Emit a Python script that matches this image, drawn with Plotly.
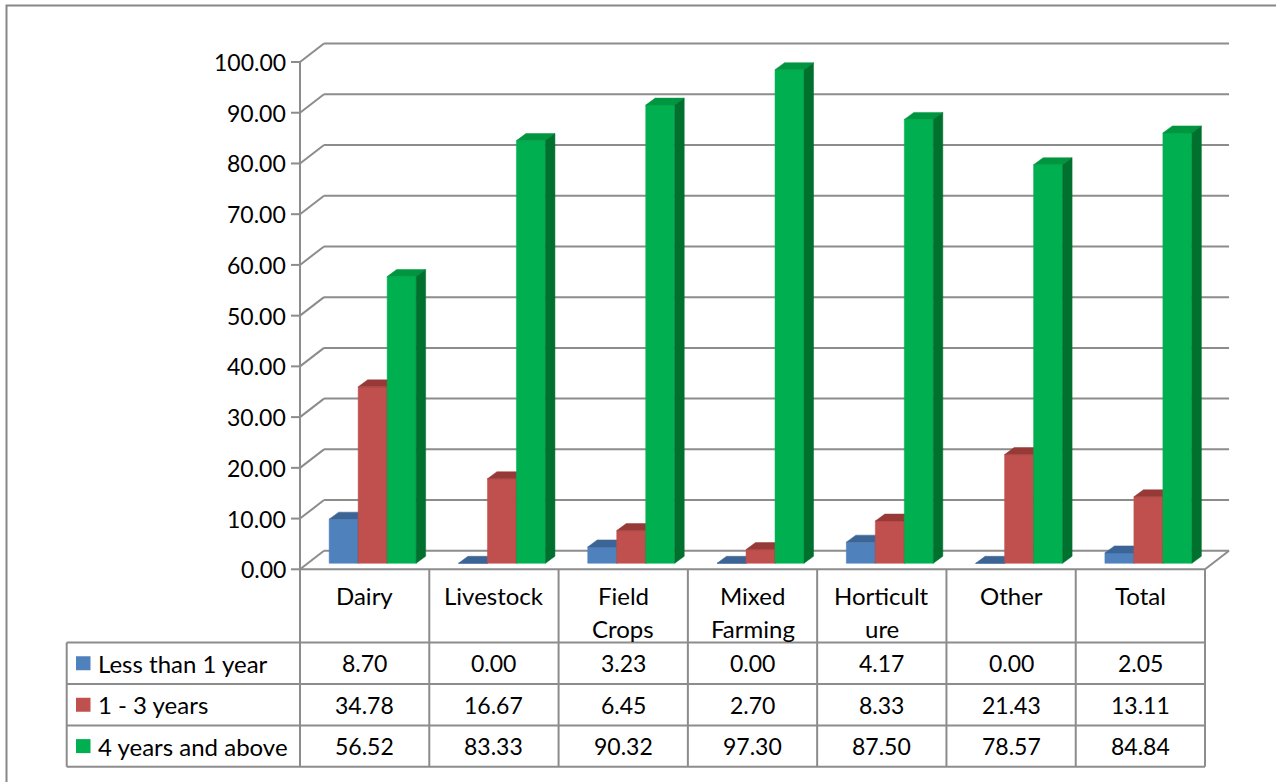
import plotly.graph_objects as go

# ---- data -------------------------------------------------------------
categories = [["Dairy"], ["Livestock"], ["Field", "Crops"], ["Mixed", "Farming"],
              ["Horticult", "ure"], ["Other"], ["Total"]]
series_names = ["Less than 1 year", "1 - 3 years", "4 years and above"]
less_than_1 = [8.70, 0.00, 3.23, 0.00, 4.17, 0.00, 2.05]
one_to_three = [34.78, 16.67, 6.45, 2.70, 8.33, 21.43, 13.11]
four_plus = [56.52, 83.33, 90.32, 97.30, 87.50, 78.57, 84.84]
y_ticks = [0, 10, 20, 30, 40, 50, 60, 70, 80, 90, 100]

series_values = [less_than_1, one_to_three, four_plus]

# ---- styling ----------------------------------------------------------
front_cols = ["#4F81BD", "#C0504D", "#00B050"]
top_cols = ["#3C6595", "#973A37", "#00963F"]
side_cols = ["#365B87", "#8C3330", "#00702E"]
GRID = "#8C8C8C"
FONT = "Lato, 'Liberation Sans', sans-serif"
FS_TEXT = 24
FS_NUM = 23

W, H = 1276, 782
PX_CAT = 129.29      # pixels per category column
X0_PX = 300.0        # left edge of first column (front plane)
PX_UNIT = 5.073      # pixels per value unit
Y0_PX = 569.3        # value 0 on the front plane

def xd(px):
    return -0.5 + (px - X0_PX) / PX_CAT

def yd(py):
    return (Y0_PX - py) / PX_UNIT

# 3-D depth of the floor / walls
DX = 24.0 / PX_CAT
DY = 18.5 / PX_UNIT
# bars sit part-way into the depth
BX = 8.0 / PX_CAT
BY = 6.0 / PX_UNIT
BDX = 9.5 / PX_CAT
BDY = 7.0 / PX_UNIT
BW = 29.0 / PX_CAT

n = len(categories)
fig = go.Figure()

# ---- bars: front, top and side faces ---------------------------------
for s, vals in enumerate(series_values):
    fx, fy, tx, ty, sx, sy = [], [], [], [], [], []
    for i, v in enumerate(vals):
        xl = i + BX + (s - 1.5) * BW
        xr = xl + BW
        b = BY
        t = BY + v
        fx += [xl, xr, xr, xl, xl, None]
        fy += [b, b, t, t, b, None]
        tx += [xl, xr, xr + BDX, xl + BDX, xl, None]
        ty += [t, t, t + BDY, t + BDY, t, None]
        sx += [xr, xr + BDX, xr + BDX, xr, xr, None]
        sy += [b, b + BDY, t + BDY, t, b, None]
    for px_, py_, col in ((fx, fy, front_cols[s]), (tx, ty, top_cols[s]), (sx, sy, side_cols[s])):
        fig.add_trace(go.Scatter(x=px_, y=py_, mode="lines", fill="toself",
                                 fillcolor=col, line=dict(width=0.5, color=col),
                                 name=series_names[s], showlegend=False,
                                 hoverinfo="skip"))

shapes = []
annotations = []

def line(x0, y0, x1, y1, layer="below", width=2, color=GRID):
    shapes.append(dict(type="line", xref="x", yref="y", x0=x0, y0=y0, x1=x1, y1=y1,
                       line=dict(color=color, width=width), layer=layer))

def label(x, y, text, size, anchor="center"):
    annotations.append(dict(xref="x", yref="y", x=x, y=y, text=text, showarrow=False,
                            xanchor=anchor, yanchor="middle",
                            font=dict(family=FONT, size=size, color="#000")))

# ---- walls, gridlines, axis ------------------------------------------
x_front_l = -0.5
x_front_r = n - 0.5
for g in y_ticks:
    line(x_front_l - 9.0 / PX_CAT, g, x_front_l, g)
    line(x_front_l, g, x_front_l + DX, g + DY)
    line(x_front_l + DX, g + DY, x_front_r + DX, g + DY)
    label(x_front_l - 12.0 / PX_CAT, g, f"{g:.2f}", FS_NUM, anchor="right")
line(x_front_l, 0, x_front_l, y_ticks[-1])
line(x_front_l, 0, x_front_r, 0)
line(x_front_r, 0, x_front_r + DX, DY)

# ---- data table ------------------------------------------------------
row_edges_px = [642.5, 684.0, 725.5, 766.7]
row_edges = [yd(p) for p in row_edges_px]
legend_left = xd(66.7)
for k in range(n + 1):
    line(k - 0.5, 0, k - 0.5, row_edges[-1], layer="above")
line(legend_left, row_edges[0], legend_left, row_edges[-1], layer="above")
for ry in row_edges:
    line(legend_left, ry, x_front_r, ry, layer="above")

# category header
hdr_line_y = [yd(595.0), yd(628.0)]
for i, lines in enumerate(categories):
    for j, txt in enumerate(lines):
        label(i, hdr_line_y[j], txt, FS_TEXT)

# rows: legend key, series name, values
for s, vals in enumerate(series_values):
    yc = (row_edges[s] + row_edges[s + 1]) / 2
    half = 7.0 / PX_UNIT
    shapes.append(dict(type="rect", xref="x", yref="y",
                       x0=xd(76.0), x1=xd(90.5), y0=yc - half, y1=yc + half,
                       fillcolor=front_cols[s], line=dict(width=0), layer="above"))
    label(xd(96.0), yc, series_names[s], FS_TEXT, anchor="left")
    for i, v in enumerate(vals):
        label(i, yc, f"{v:.2f}", FS_NUM)

# outer chart frame
shapes.append(dict(type="rect", xref="paper", yref="paper",
                   x0=6.5 / W, x1=1.05, y0=-0.05, y1=1 - 5.5 / H,
                   line=dict(color="#878787", width=2), fillcolor="rgba(0,0,0,0)",
                   layer="above"))

fig.update_layout(
    width=W, height=H,
    margin=dict(l=0, r=0, t=0, b=0),
    paper_bgcolor="white", plot_bgcolor="white",
    showlegend=False,
    xaxis=dict(range=[xd(0), xd(W)], visible=False, fixedrange=True),
    yaxis=dict(range=[yd(H), yd(0)], visible=False, fixedrange=True),
    shapes=shapes,
    annotations=annotations,
)

fig.write_html("out.html")
